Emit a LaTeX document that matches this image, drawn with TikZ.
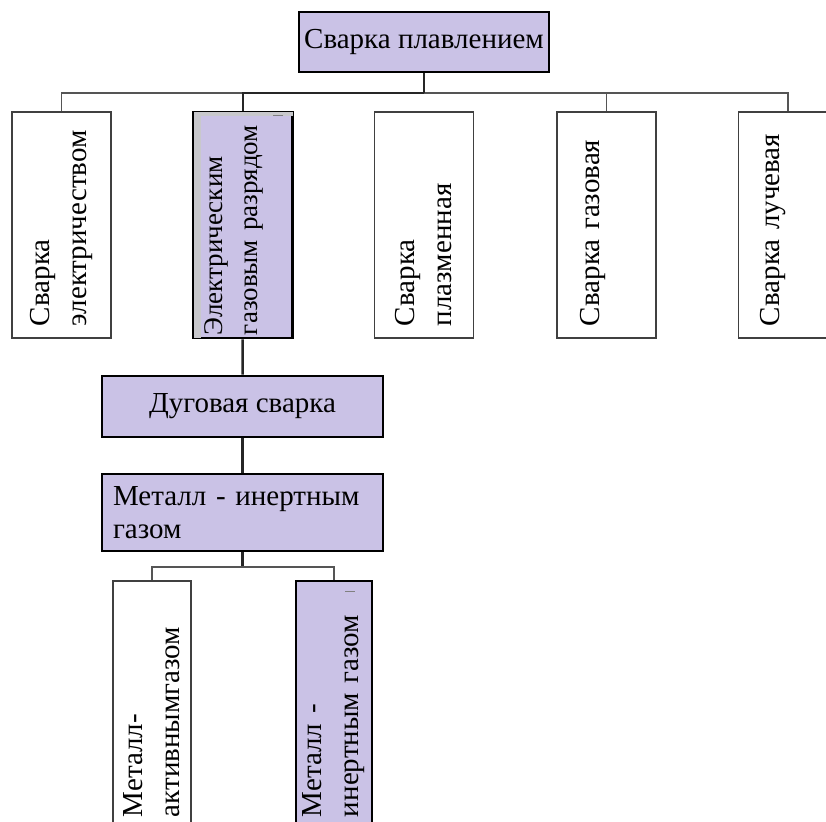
\documentclass[tikz,border=0pt]{standalone}
\usepackage{fontspec}
\setmainfont{Liberation Serif}
\usepackage{xcolor}
\usepackage{tikz}
\usetikzlibrary{shapes.geometric, arrows}
\definecolor{lav}{RGB}{202,194,230}
\definecolor{stripgrey}{RGB}{200,200,204}
\definecolor{boxgrey}{RGB}{64,64,64}
\definecolor{wiregrey}{RGB}{85,85,85}
\tikzstyle{title} = [rectangle, minimum width=250pt, minimum height=60pt, text centered, draw=black, line width=2.6pt, fill=lav]
\tikzstyle{hbox} = [rectangle, minimum width=281pt, draw=black, line width=2.6pt, fill=lav]
\tikzstyle{branch} = [rectangle, rotate=90, minimum height=99pt, text width=202pt, inner xsep=12pt, inner ysep=0pt, align=left, draw=boxgrey, line width=1.8pt, fill=white]
\tikzstyle{picked} = [branch, draw=black, line width=2.6pt, fill=lav]
\tikzstyle{link} = [draw=wiregrey, line width=1.6pt]
\tikzstyle{mainlink} = [draw=black!85, line width=2.6pt]

\begin{document}
\begin{tikzpicture}[x=1pt, y=-1pt, every node/.style={font=\fontsize{29}{37}\selectfont}]
		\clip (0,0) rectangle (826,821);
		
		\node (Fusion) [title] at (424,42) {Сварка плавлением};
		\node (Electric) [branch] at (61.5,225) {Сварка\\электричеством};
		\node (GasDischarge) [picked, text width=220pt, inner xsep=3pt, text depth=58pt, font=\fontsize{27}{35}\selectfont] at (243,225) {Электрическим\\газовым разрядом};
		\node (Plasma) [branch] at (424,225) {Сварка\\плазменная};
		\node (GasWeld) [branch, text depth=33pt] at (606.5,225) {Сварка газовая};
		\node (Beam) [branch, text depth=36pt] at (788,225) {Сварка лучевая};
		\node (Arc) [hbox, minimum height=61pt] at (242.5,406.5) {Дуговая сварка};
		\node (MIG) [hbox, below of=Arc, node distance=106pt, minimum height=77pt, text width=259pt, inner xsep=11pt, align=left, font=\fontsize{29}{33}\selectfont] {Металл - инертным\\газом};
		\node (MAG) [branch, text width=223pt, inner xsep=13pt, minimum height=78pt] at (152,705.5) {Металл-\\активнымгазом};
		\node (MIGv) [picked, text width=223pt, inner xsep=13pt, minimum height=76pt] at (334,705.5) {Металл -\\инертным газом};
		\coordinate (bus) at (424,93);
		\coordinate (bus2) at (242.5,567);
		
		% grey edge inside the chosen branch
		\fill [stripgrey] ([shift={(1.3pt,-1.3pt)}]GasDischarge.north east) rectangle ([shift={(9pt,1.3pt)}]GasDischarge.north west);
		\fill [stripgrey] ([shift={(1.3pt,-1.3pt)}]GasDischarge.north east) rectangle ([shift={(-1.3pt,-5pt)}]GasDischarge.south east);
		\draw [gray, line width=1pt] (273,116) -- (283,116);
		\draw [gray, line width=1pt] (345,591) -- (355,591);
		
		\draw [link] (bus) -| (Electric);
		\draw [link] (bus) -| (GasWeld);
		\draw [link] (bus) -| (Beam);
		\draw [mainlink] (Fusion) -- (bus);
		\draw [mainlink] (bus) -| (GasDischarge);
		\draw [mainlink] (GasDischarge) -- (Arc);
		\draw [mainlink] (Arc) -- (MIG);
		\draw [mainlink] (MIG) -- (bus2);
		\draw [link] (bus2) -| (MAG);
		\draw [link] (bus2) -| (MIGv);
	\end{tikzpicture}
\end{document}
